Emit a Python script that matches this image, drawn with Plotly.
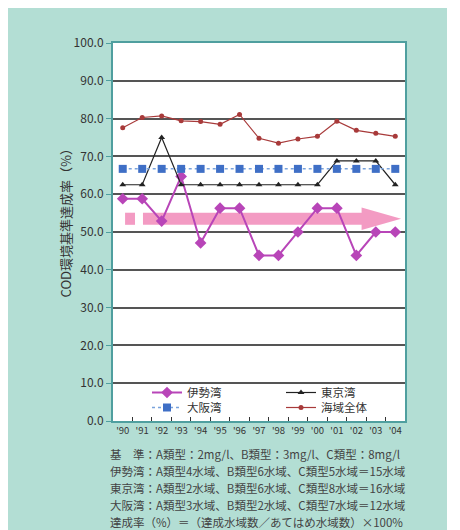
import plotly.graph_objects as go

years = ["'90", "'91", "'92", "'93", "'94", "'95", "'96", "'97", "'98", "'99", "'00", "'01", "'02", "'03", "'04"]
ise = [58.8, 58.8, 52.9, 64.7, 47.1, 56.3, 56.3, 43.8, 43.8, 50.0, 56.3, 56.3, 43.8, 50.0, 50.0]
tokyo = [62.5, 62.5, 75.0, 62.5, 62.5, 62.5, 62.5, 62.5, 62.5, 62.5, 62.5, 68.8, 68.8, 68.8, 62.5]
osaka = [66.7] * 15
zentai = [77.6, 80.3, 80.7, 79.4, 79.2, 78.5, 81.1, 74.8, 73.5, 74.6, 75.3, 79.3, 76.9, 76.1, 75.3]
y_ticks = [0, 10, 20, 30, 40, 50, 60, 70, 80, 90, 100]
notes = [
    "基　準：A類型：2mg/l、B類型：3mg/l、C類型：8mg/l",
    "伊勢湾：A類型4水域、B類型6水域、C類型5水域＝15水域",
    "東京湾：A類型2水域、B類型6水域、C類型8水域＝16水域",
    "大阪湾：A類型3水域、B類型2水域、C類型7水域＝12水域",
    "達成率（%）＝（達成水域数／あてはめ水域数）×100%",
]

FONT = "Noto Sans CJK JP"
TEAL_BG = "#b3ded4"
TEAL_LINE = "#4f9f9f"

# figure pixel geometry (page body adds an 8px offset)
L, R, T, B = 105, 397, 35, 413
W, H = 439, 530
PW, PH = R - L, B - T

def px_x(px):
    return (px - L) / PW

def px_y(py):
    return (B - py) / PH

fig = go.Figure()
fig.add_trace(go.Scatter(x=years, y=ise, name="伊勢湾", mode="lines+markers", legend="legend",
                         line=dict(color="#b845b8", width=2),
                         marker=dict(symbol="diamond", size=9, color="#b845b8")))
fig.add_trace(go.Scatter(x=years, y=tokyo, name="東京湾", mode="lines+markers", legend="legend2",
                         line=dict(color="#222222", width=1.2),
                         marker=dict(symbol="triangle-up", size=6, color="#222222")))
fig.add_trace(go.Scatter(x=years, y=osaka, name="大阪湾", mode="lines+markers", legend="legend3",
                         line=dict(color="#7aa3dc", width=1.5, dash="dot"),
                         marker=dict(symbol="square", size=8, color="#3f6fc6")))
fig.add_trace(go.Scatter(x=years, y=zentai, name="海域全体", mode="lines+markers", legend="legend4",
                         line=dict(color="#a83a3a", width=1.2),
                         marker=dict(symbol="circle", size=5, color="#a83a3a")))

# pink trend arrow (decoration)
pink = "rgba(240,130,180,0.8)"
yc, hb, hh = 53.5, 1.6, 3.0
fig.add_shape(type="rect", x0=0.12, x1=0.63, y0=yc - hb, y1=yc + hb,
              fillcolor=pink, line_width=0, layer="below")
fig.add_shape(type="path",
              path=f"M 1.04 {yc - hb} L 12.27 {yc - hb} L 12.27 {yc - hh} L 14.3 {yc} "
                   f"L 12.27 {yc + hh} L 12.27 {yc + hb} L 1.04 {yc + hb} Z",
              fillcolor=pink, line_width=0, layer="below")

fig.add_annotation(text="COD環境基準達成率（%）", xref="paper", yref="paper",
                   x=px_x(45), y=px_y(212), textangle=-90, showarrow=False,
                   font=dict(family=FONT, size=13, color="#333333"))
for i, t in enumerate(notes):
    fig.add_annotation(text=t, xref="paper", yref="paper", x=px_x(100),
                       y=px_y(446 + 17 * i), xanchor="left", yanchor="middle",
                       showarrow=False, font=dict(family=FONT, size=11.5, color="#444444"))

leg_common = dict(orientation="v", xanchor="left", yanchor="top", bgcolor="rgba(255,255,255,0)",
                  font=dict(family=FONT, size=11.5, color="#333333"), tracegroupgap=0,
                  itemwidth=30)
fig.update_layout(
    width=W, height=H,
    margin=dict(l=L, r=W - R, t=T, b=H - B),
    paper_bgcolor=TEAL_BG, plot_bgcolor="white",
    font=dict(family=FONT, color="#333333"),
    showlegend=True,
    legend=dict(x=px_x(139), y=px_y(370), **leg_common),
    legend2=dict(x=px_x(273), y=px_y(370), **leg_common),
    legend3=dict(x=px_x(139), y=px_y(385), **leg_common),
    legend4=dict(x=px_x(273), y=px_y(385), **leg_common),
    xaxis=dict(type="category", range=[-0.5, 14.5], showgrid=False, tickangle=0,
               ticks="inside", tickson="boundaries", ticklen=4, tickcolor="#333333",
               showline=True, linecolor=TEAL_LINE, linewidth=2, mirror=True,
               tickfont=dict(size=9.5, color="#333333"), zeroline=False),
    yaxis=dict(range=[0, 100], tickvals=y_ticks, tickformat=".1f",
               showgrid=True, gridcolor="#555555", gridwidth=1.5,
               ticks="outside", ticklen=5, tickcolor=TEAL_LINE,
               showline=True, linecolor=TEAL_LINE, linewidth=2, mirror=True,
               tickfont=dict(size=12, color="#333333"), zeroline=False),
)

fig.write_html("out.html")
